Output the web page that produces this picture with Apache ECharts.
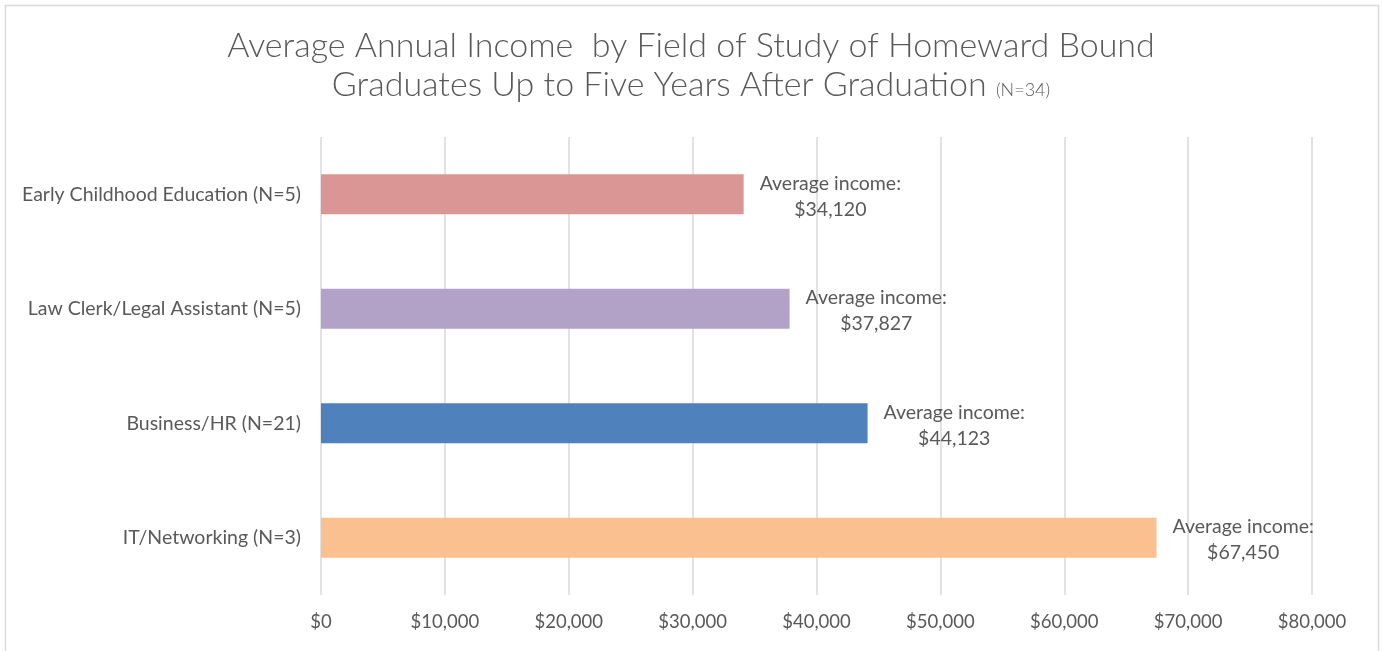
<!DOCTYPE html>
<html>
<head>
<meta charset="utf-8">
<script src="https://cdn.jsdelivr.net/npm/echarts@6/dist/echarts.min.js"></script>
<style>
  html, body { margin: 0; padding: 0; background: #fff; }
  #main { width: 1382px; height: 651px; }
</style>
</head>
<body>
<div id="main"></div>
<script>
  // data
  var categories = ['Early Childhood Education (N=5)', 'Law Clerk/Legal Assistant (N=5)', 'Business/HR (N=21)', 'IT/Networking (N=3)'];
  var incomes = [34120, 37827, 44123, 67450];
  var barColors = ['#DA9694', '#B3A2C7', '#4F81BD', '#FAC090'];
  var xTicks = [0, 10000, 20000, 30000, 40000, 50000, 60000, 70000, 80000];

  function money(v) {
    return '$' + v.toString().replace(/\B(?=(\d{3})+(?!\d))/g, ',');
  }

  var chart = echarts.init(document.getElementById('main'));
  var font = 'Lato, "Open Sans", sans-serif';

  chart.setOption({
    animation: false,
    backgroundColor: '#fff',
    textStyle: { fontFamily: font },
    graphic: [{
      type: 'rect',
      shape: { x: 5.5, y: 5.5, width: 1373, height: 700 },
      style: { fill: 'none', stroke: '#d9d9d9', lineWidth: 1.5 },
      silent: true
    }],
    title: {
      left: 'center',
      top: 22,
      text: 'Average Annual Income  by Field of Study of Homeward Bound\nGraduates Up to Five Years After Graduation {s|(N=34)}',
      textStyle: {
        fontFamily: 'Lato, sans-serif',
        fontWeight: 300,
        fontSize: 34,
        lineHeight: 39,
        color: '#595959',
        rich: {
          s: { fontSize: 18, fontWeight: 300, color: '#595959', fontFamily: 'Lato, sans-serif', padding: [9, 0, 0, 0] }
        }
      }
    },
    grid: { left: 321, right: 70, top: 137, bottom: 56, containLabel: false },
    xAxis: {
      type: 'value',
      min: xTicks[0],
      max: xTicks[xTicks.length - 1],
      interval: 10000,
      axisLine: { show: false },
      axisTick: { show: false },
      splitLine: { lineStyle: { color: '#d9d9d9', width: 1.5 } },
      axisLabel: {
        margin: 18,
        color: '#595959',
        fontSize: 18.5,
        fontFamily: font,
        formatter: money
      }
    },
    yAxis: {
      type: 'category',
      inverse: true,
      data: categories,
      axisLine: { show: false },
      axisTick: { show: false },
      axisLabel: { margin: 20, color: '#595959', fontSize: 19.5, fontFamily: font }
    },
    series: [{
      type: 'bar',
      barWidth: 40,
      data: incomes.map(function (v, i) {
        return { value: v, itemStyle: { color: barColors[i] } };
      }),
      label: {
        show: true,
        position: 'right',
        distance: 16,
        offset: [0, 2],
        color: '#595959',
        formatter: function (p) {
          return '{a|Average income:}\n{a|' + money(p.value) + '}';
        },
        rich: {
          a: { align: 'center', fontSize: 19.5, lineHeight: 26, color: '#595959', fontFamily: font }
        }
      }
    }]
  });
</script>
</body>
</html>
